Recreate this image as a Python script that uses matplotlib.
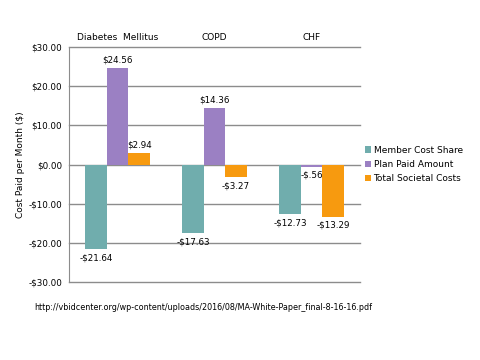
import matplotlib
matplotlib.use("Agg")
import matplotlib.pyplot as plt
import numpy as np

categories = ["Diabetes  Mellitus", "COPD", "CHF"]
series_names = ["Member Cost Share", "Plan Paid Amount", "Total Societal Costs"]
member = [-21.64, -17.63, -12.73]
plan = [24.56, 14.36, -0.56]
total = [2.94, -3.27, -13.29]
value_labels = [
    ["-$21.64", "-$17.63", "-$12.73"],
    ["$24.56", "$14.36", "-$.56"],
    ["$2.94", "-$3.27", "-$13.29"],
]
yticks = [30, 20, 10, 0, -10, -20, -30]
ytick_labels = ["$30.00", "$20.00", "$10.00", "$0.00", "-$10.00", "-$20.00", "-$30.00"]
colors = ["#70ADAD", "#9B80C3", "#F79A0F"]

plt.rcParams['font.family'] = ['DejaVu Sans']
fig = plt.figure(figsize=(4.8, 3.6), dpi=100)
ax = fig.add_axes([0.144, 0.217, 0.606, 0.652])

x = np.arange(len(categories))
w = 0.222
series = [member, plan, total]
for i, (vals, c) in enumerate(zip(series, colors)):
    xs = x + (i - 1) * w
    ax.bar(xs, vals, width=w, color=c, label=series_names[i], zorder=3)
    for xi, v, lab in zip(xs, vals, value_labels[i]):
        if v >= 0:
            ax.text(xi, v + 1.0, lab, ha="center", va="bottom", fontsize=6.3)
        else:
            ax.text(xi, v - 1.0, lab, ha="center", va="top", fontsize=6.3)

ax.set_xlim(-0.5, 2.5)
ax.set_ylim(-30, 30)
ax.set_yticks(yticks)
ax.set_yticklabels(ytick_labels, fontsize=6.3)
for t in yticks:
    ax.axhline(t, color="#8C8C8C", linewidth=1.0, zorder=1, clip_on=False)
ax.tick_params(axis="y", length=0, pad=5)
ax.xaxis.tick_top()
ax.set_xticks(x)
ax.set_xticklabels(categories, fontsize=6.5)
ax.tick_params(axis="x", length=0, pad=4)
for s in ["top", "right", "bottom"]:
    ax.spines[s].set_visible(False)
ax.spines["left"].set_color("#8C8C8C")
ax.set_ylabel("Cost Paid per Month ($)", fontsize=6.5)
ax.yaxis.set_label_coords(-0.15, 0.5)

ax.legend(loc="center left", bbox_to_anchor=(1.0, 0.5), frameon=False,
          fontsize=6.5, handlelength=0.7, handleheight=0.7, handletextpad=0.3,
          labelspacing=0.6, borderaxespad=0.1)

fig.text(0.072, 0.145, "http://vbidcenter.org/wp-content/uploads/2016/08/MA-White-Paper_final-8-16-16.pdf",
         fontsize=5.8, va="center", ha="left")

fig.savefig("out.png", dpi=100, facecolor="white")
